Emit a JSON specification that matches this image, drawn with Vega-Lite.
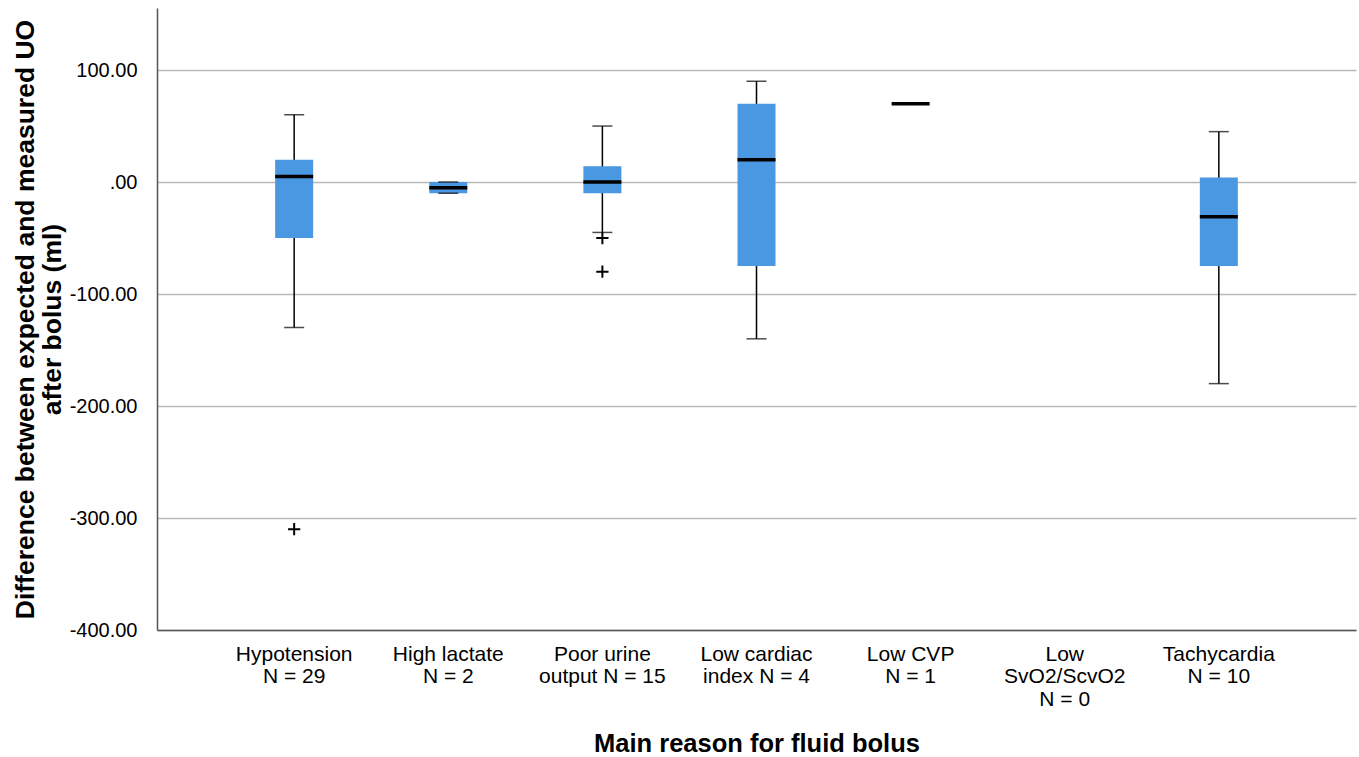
{
  "$schema": "https://vega.github.io/schema/vega-lite/v6.json",
  "width": 1199,
  "height": 622,
  "autosize": {"type": "none"},
  "padding": {"left": 157, "top": 8, "right": 3, "bottom": 127},
  "background": "white",
  "config": {
    "font": "Liberation Sans",
    "view": {"stroke": null}
  },
  "datasets": {
    "stats": [
      {"reason": "Hypotension|N = 29", "lo": -130, "q1": -50, "med": 5, "q3": 20, "hi": 60},
      {"reason": "High lactate|N = 2", "lo": -10, "q1": -10, "med": -5, "q3": 0, "hi": 0},
      {"reason": "Poor urine|output N = 15", "lo": -45, "q1": -10, "med": 0, "q3": 14, "hi": 50},
      {"reason": "Low cardiac|index N = 4", "lo": -140, "q1": -75, "med": 20, "q3": 70, "hi": 90},
      {"reason": "Low CVP|N = 1", "lo": null, "q1": null, "med": 70, "q3": null, "hi": null},
      {"reason": "Tachycardia|N = 10", "lo": -180, "q1": -75, "med": -31, "q3": 4, "hi": 45}
    ],
    "outliers": [
      {"reason": "Hypotension|N = 29", "value": -310},
      {"reason": "Poor urine|output N = 15", "value": -50},
      {"reason": "Poor urine|output N = 15", "value": -80}
    ]
  },
  "encoding": {
    "x": {
      "field": "reason",
      "type": "nominal",
      "sort": null,
      "scale": {
        "domain": ["Hypotension|N = 29", "High lactate|N = 2", "Poor urine|output N = 15", "Low cardiac|index N = 4", "Low CVP|N = 1", "Low|SvO2/ScvO2|N = 0", "Tachycardia|N = 10"],
        "paddingInner": 0,
        "paddingOuter": 0.39
      },
      "axis": {
        "title": "Main reason for fluid bolus",
        "titleFontSize": 25.5,
        "titleFontWeight": "bold",
        "titleColor": "black",
        "titlePadding": 22,
        "labelExpr": "split(datum.value, '|')",
        "labelAngle": 0,
        "labelFontSize": 21,
        "labelLineHeight": 22.5,
        "labelColor": "black",
        "labelPadding": 13,
        "ticks": false,
        "domainColor": "#555555",
        "domainWidth": 1.5,
        "grid": false
      }
    }
  },
  "layer": [
    {
      "data": {"name": "stats"},
      "mark": {"type": "rule", "color": "black", "strokeWidth": 1.5},
      "encoding": {
        "y": {
          "field": "lo",
          "type": "quantitative",
          "scale": {"domain": [-400, 155.4], "nice": false, "zero": false},
          "axis": {
            "title": ["Difference between expected and measured UO", "after bolus (ml)"],
            "titleFontSize": 26.5,
            "titleFontWeight": "bold",
            "titleColor": "black",
            "titleLineHeight": 27,
            "titlePadding": 3,
            "values": [-400, -300, -200, -100, 0, 100],
            "labelExpr": "datum.value == 0 ? '.00' : (datum.value < 0 ? '-' : '') + format(abs(datum.value), '.2f')",
            "labelFontSize": 20,
            "labelColor": "black",
            "labelPadding": 20,
            "ticks": false,
            "domainColor": "#555555",
            "domainWidth": 1.5,
            "grid": true,
            "gridColor": "#b8b8b8",
            "gridWidth": 1.5
          }
        },
        "y2": {"field": "hi"}
      }
    },
    {
      "data": {"name": "stats"},
      "mark": {"type": "bar", "color": "#4a97e2", "width": 38},
      "encoding": {
        "y": {"field": "q1", "type": "quantitative"},
        "y2": {"field": "q3"}
      }
    },
    {
      "data": {"name": "stats"},
      "mark": {"type": "tick", "color": "black", "size": 20, "thickness": 1.5},
      "encoding": {
        "y": {"field": "lo", "type": "quantitative"}
      }
    },
    {
      "data": {"name": "stats"},
      "mark": {"type": "tick", "color": "black", "size": 20, "thickness": 1.5},
      "encoding": {
        "y": {"field": "hi", "type": "quantitative"}
      }
    },
    {
      "data": {"name": "stats"},
      "mark": {"type": "tick", "color": "black", "size": 38, "thickness": 3.5, "opacity": 1},
      "encoding": {
        "y": {"field": "med", "type": "quantitative"}
      }
    },
    {
      "data": {"name": "outliers"},
      "mark": {"type": "point", "shape": "M-1,0H1M0,-1V1", "stroke": "black", "strokeWidth": 2, "size": 150, "filled": false, "opacity": 1},
      "encoding": {
        "y": {"field": "value", "type": "quantitative"}
      }
    }
  ]
}
